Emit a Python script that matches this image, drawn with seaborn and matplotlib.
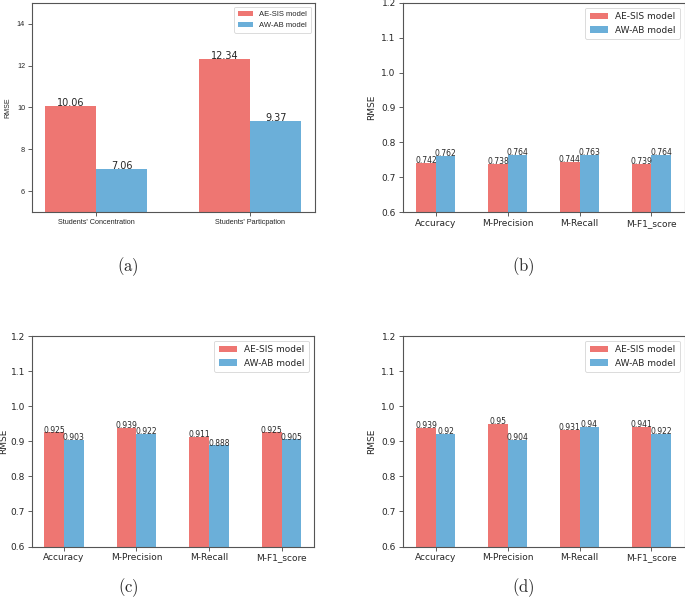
import matplotlib
matplotlib.use("Agg")
import matplotlib.pyplot as plt
import seaborn as sns
import pandas as pd

sns.set_style("white")
plt.rcParams['mathtext.fontset'] = 'cm'

models = ["AE-SIS model", "AW-AB model"]
colors = ["#EE7672", "#6BAFD9"]

cats_a = ["Students' Concentration", "Students' Particpation"]
aesis_a = [10.06, 12.34]
awab_a = [7.06, 9.37]

metrics = ["Accuracy", "M-Precision", "M-Recall", "M-F1_score"]
aesis_b = [0.742, 0.738, 0.744, 0.739]
awab_b = [0.762, 0.764, 0.763, 0.764]
aesis_c = [0.925, 0.939, 0.911, 0.925]
awab_c = [0.903, 0.922, 0.888, 0.905]
aesis_d = [0.939, 0.95, 0.931, 0.941]
awab_d = [0.92, 0.904, 0.94, 0.922]

captions = ["(a)", "(b)", "(c)", "(d)"]

W, H = 685, 610
fig = plt.figure(figsize=(W / 100, H / 100), dpi=100)


def box(l, r, t, b):
    return [l / W, 1 - b / H, (r - l) / W, (b - t) / H]


def make_df(cats, v1, v2):
    rows = []
    for c, a in zip(cats, v1):
        rows.append({"cat": c, "model": models[0], "val": a})
    for c, a in zip(cats, v2):
        rows.append({"cat": c, "model": models[1], "val": a})
    return pd.DataFrame(rows)


def draw(ax, cats, v1, v2, width, ylim, yticks, xlim, font, tick_fs, lab_fs,
         leg_fs, ann_fs, ann_font, labelpad=4):
    df = make_df(cats, v1, v2)
    sns.barplot(data=df, x="cat", y="val", hue="model", order=cats,
                hue_order=models, palette=colors, width=width, errorbar=None,
                linewidth=0, saturation=1, ax=ax)
    ax.set_ylim(*ylim)
    ax.set_yticks(yticks)
    ax.set_xlim(*xlim)
    ax.set_xlabel("")
    ax.set_ylabel("RMSE", fontsize=lab_fs, family=font, labelpad=labelpad)
    for lab in ax.get_xticklabels() + ax.get_yticklabels():
        lab.set_family(font)
        lab.set_fontsize(tick_fs)
    ax.tick_params(axis="both", which="both", length=3, width=0.6,
                   color="#444444", bottom=True, left=True, pad=2)
    for s in ax.spines.values():
        s.set_color("#555555")
        s.set_linewidth(0.8)
    for cont in ax.containers:
        ax.bar_label(cont, fmt="{:g}", padding=-1.5, fontsize=ann_fs,
                     family=ann_font)
    leg = ax.legend(loc="upper right", prop={"family": font, "size": leg_fs},
                    frameon=True, handlelength=2.0, borderpad=0.5)
    leg.get_frame().set_linewidth(0.6)
    leg.get_frame().set_edgecolor("#cccccc")


# (a)
ax_a = fig.add_axes(box(32, 315, 3, 212))
draw(ax_a, cats_a, aesis_a, awab_a, 0.66, (5, 15), [6, 8, 10, 12, 14],
     (-0.415, 1.42), "Liberation Sans", 5.2, 5, 5.5, 7, "DejaVu Sans")

# (b)
ax_b = fig.add_axes(box(402.7, 684.5, 3, 212))
draw(ax_b, metrics, aesis_b, awab_b, 0.54, (0.6, 1.2),
     [0.6, 0.7, 0.8, 0.9, 1.0, 1.1, 1.2], (-0.46, 3.46), "DejaVu Sans",
     6.5, 6.5, 6.5, 5.5, "DejaVu Sans")

# (c)
ax_c = fig.add_axes(box(32, 313.5, 336, 546.5))
draw(ax_c, metrics, aesis_c, awab_c, 0.54, (0.6, 1.2),
     [0.6, 0.7, 0.8, 0.9, 1.0, 1.1, 1.2], (-0.44, 3.44), "DejaVu Sans",
     6.5, 6.5, 6.5, 5.5, "DejaVu Sans", labelpad=1.5)

# (d)
ax_d = fig.add_axes(box(402.7, 684.5, 336, 546.5))
draw(ax_d, metrics, aesis_d, awab_d, 0.54, (0.6, 1.2),
     [0.6, 0.7, 0.8, 0.9, 1.0, 1.1, 1.2], (-0.46, 3.46), "DejaVu Sans",
     6.5, 6.5, 6.5, 5.5, "DejaVu Sans")

cap_pos = [(128, 267), (523, 267), (128, 588), (523, 588)]
for (x, y), c in zip(cap_pos, captions):
    fig.text(x / W, 1 - y / H, r"$\mathrm{" + c + "}$", ha="center",
             va="center", fontsize=12)

fig.savefig("out.png", dpi=100)
